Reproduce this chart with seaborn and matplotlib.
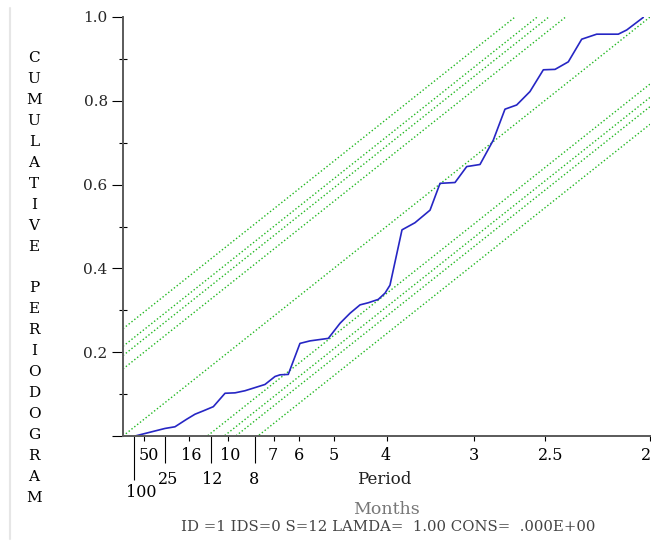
import matplotlib
matplotlib.use("Agg")
import matplotlib.pyplot as plt
import seaborn as sns
import pandas as pd
from matplotlib.lines import Line2D

# Cumulative periodogram (frequency in cycles per month)
freq = [0.0114, 0.0209, 0.0335, 0.0398, 0.0493, 0.0604, 0.0683, 0.0762, 0.0857,
        0.0968, 0.1063, 0.1157, 0.1284, 0.1347, 0.1442, 0.1490, 0.1568, 0.1679,
        0.1774, 0.1948, 0.2059, 0.2154, 0.2249, 0.2327, 0.2422, 0.2486, 0.2533,
        0.2647, 0.2770, 0.2913, 0.3008, 0.3150, 0.3261, 0.3387, 0.3513, 0.3624,
        0.3735, 0.3861, 0.3988, 0.4099, 0.4225, 0.4352, 0.4494, 0.4699, 0.4779,
        0.4936]
cum_pgram = [0.000, 0.006, 0.014, 0.018, 0.022, 0.040, 0.052, 0.060, 0.070,
             0.102, 0.103, 0.108, 0.118, 0.123, 0.142, 0.146, 0.147, 0.221,
             0.227, 0.233, 0.269, 0.293, 0.313, 0.318, 0.326, 0.341, 0.360,
             0.492, 0.509, 0.539, 0.603, 0.605, 0.643, 0.648, 0.706, 0.780,
             0.790, 0.822, 0.874, 0.875, 0.893, 0.947, 0.959, 0.959, 0.969,
             0.999]

# Kolmogorov-Smirnov band half-widths (1%, 5%, 10%, 25%)
ks_offsets = [0.256, 0.214, 0.192, 0.160]
nyquist = 0.5

# Period axis
period_ticks = [100, 50, 25, 16, 12, 10, 8, 7, 6, 5, 4, 3, 2.5, 2]
period_labels = ["100", "50", "25", "16", "12", "10", "8", "7", "6", "5",
                 "4", "3", "2.5", "2"]
y_ticks = [0.0, 0.2, 0.4, 0.6, 0.8, 1.0]
y_labels = ["", "0.2", "0.4", "0.6", "0.8", "1.0"]

ylabel_text = "CUMULATIVE PERIODOGRAM"
xlabel_text = "Period"
unit_text = "Months"
info_text = "ID =1 IDS=0 S=12 LAMDA=  1.00 CONS=  .000E+00"

# ---- styling ---------------------------------------------------------------
sns.set_style("white")
plt.rcParams["font.family"] = ["DejaVu Serif"]
PX = 0.72  # points per pixel at 100 dpi

# tier of each period tick: 0 short, 1 medium, 2 long
tick_tier = [2, 0, 1, 0, 1, 0, 1, 0, 0, 0, 0, 0, 0, 0]
tier_len_px = [5, 27, 44]
tier_label_px = [11, 35, 48]
label_nudge_px = [8, 5, 3, 2, 1, 2, -1, -1, 0, 0, -1, 0, 6, -4]

W, H = 651, 542
fig = plt.figure(figsize=(W / 100, H / 100), dpi=100)
ax = fig.add_axes([123 / W, 106 / H, 527 / W, 419 / H])

green = "#22b822"
dots = (0, (1, 1.6))
for c in ks_offsets:
    for sign in (1, -1):
        ax.plot([0, nyquist], [sign * c, 1 + sign * c], color=green,
                linestyle=dots, linewidth=1.0)
ax.plot([0, nyquist], [0, 1], color=green, linestyle=dots, linewidth=1.0)

df = pd.DataFrame({"freq": freq, "cp": cum_pgram})
sns.lineplot(data=df, x="freq", y="cp", ax=ax, color="#2626c4",
             linewidth=1.2, sort=False, estimator=None)

ax.set_xlim(0, nyquist)
ax.set_ylim(0, 1)
ax.set_xlabel("")
ax.set_ylabel("")

for side in ("top", "right"):
    ax.spines[side].set_visible(False)
for side in ("left", "bottom"):
    ax.spines[side].set_color("#5a5a5a")
    ax.spines[side].set_linewidth(1.4)

# y axis
ax.set_yticks(y_ticks)
ax.set_yticklabels(y_labels)
ax.set_yticks([0.1, 0.3, 0.5, 0.7, 0.9], minor=True)
ax.tick_params(axis="y", which="both", left=True, right=False)
ax.tick_params(axis="y", which="major", direction="out", length=8, width=0.8,
               color="black", pad=3, labelsize=11)
ax.tick_params(axis="y", which="minor", direction="inout", length=6,
               width=0.8, color="black")

# x axis: period ticks at frequency 1/period, labels staggered
ax.set_xticks([1.0 / p for p in period_ticks])
ax.set_xticklabels([""] * len(period_ticks))
ax.tick_params(axis="x", which="major", bottom=True, top=False,
               direction="out", width=0.8, color="black")
for tick, tier in zip(ax.xaxis.get_major_ticks(), tick_tier):
    tick.tick1line.set_markersize(tier_len_px[tier] * PX)

for p, lab, tier, dx in zip(period_ticks, period_labels, tick_tier,
                            label_nudge_px):
    ax.annotate(lab, xy=(1.0 / p, 0), xycoords=("data", "axes fraction"),
                xytext=(dx * PX, -tier_label_px[tier] * PX),
                textcoords="offset points", ha="center", va="top",
                fontsize=11.5, color="black", annotation_clip=False)

# vertical letter-stacked y label
for i, ch in enumerate(ylabel_text):
    fig.text(34 / W, 1 - (58 + i * 20.95) / H, ch, ha="center", va="center",
             fontsize=11, color="black")

fig.text(384 / W, 1 - 480 / H, xlabel_text, ha="center", va="center",
         fontsize=12, color="#202020")
fig.text(386 / W, 1 - 510 / H, unit_text, ha="center", va="center",
         fontsize=12.5, color="#777777")
fig.text(388 / W, 1 - 527 / H, info_text, ha="center", va="center",
         fontsize=10.7, color="#444444")

# light frame edge on the left
fig.add_artist(Line2D([10 / W, 10 / W], [3 / H, 1 - 8 / H],
                      color="#e6e6e6", linewidth=1.5))

fig.savefig("out.png", dpi=100)
